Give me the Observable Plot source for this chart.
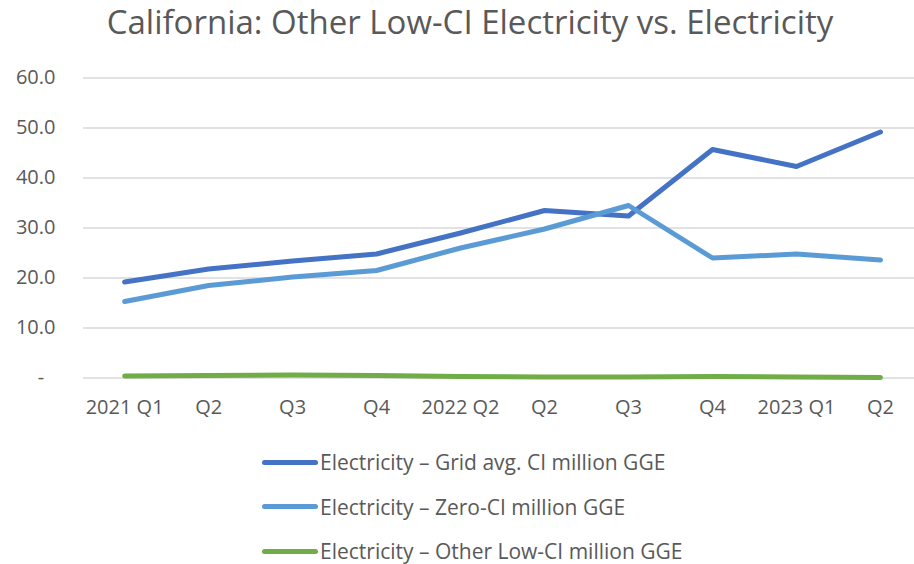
<!DOCTYPE html>
<html><head><meta charset="utf-8">
<script src="https://cdn.jsdelivr.net/npm/d3@7"></script>
<script src="https://cdn.jsdelivr.net/npm/@observablehq/plot@0.6"></script>
<style>
body{margin:0;background:#fff;font-family:"Open Sans",Lato,sans-serif;color:#595959;}
#wrap{position:relative;width:914px;height:564px;overflow:hidden;background:#fff}
#title{position:absolute;left:0;top:0;width:940px;text-align:center;font-size:33px;line-height:44px;color:#595959;white-space:nowrap}
#chart{position:absolute;left:0;top:52px}
#legend{position:absolute;left:262px;top:440px}
.item{position:absolute;left:0;white-space:nowrap;font-size:21px;line-height:44px;height:44px;display:flex;align-items:center}
.sw{display:inline-block;width:56px;height:5px;border-radius:3px;margin-right:2px}
</style></head>
<body><div id="wrap"><div id="title">California: Other Low-CI Electricity vs. Electricity</div><div id="chart"></div><div id="legend"></div></div>
<script>
const quarters = ["2021 Q1","Q2","Q3","Q4","2022 Q2","Q2","Q3","Q4","2023 Q1","Q2"];
const gridAvg = [19.2, 21.8, 23.4, 24.8, 29.0, 33.5, 32.4, 45.7, 42.3, 49.2];
const zeroCI = [15.3, 18.5, 20.2, 21.5, 26.0, 29.8, 34.5, 24.0, 24.8, 23.6];
const otherLowCI = [0.4, 0.5, 0.6, 0.5, 0.3, 0.2, 0.2, 0.3, 0.2, 0.1];
const seriesNames = ["Electricity – Grid avg. CI million GGE", "Electricity – Zero-CI million GGE", "Electricity – Other Low-CI million GGE"];
const seriesColors = ["#4472C4", "#5B9BD5", "#70AD47"];
const yTicks = [0, 10, 20, 30, 40, 50, 60];

const allSeries = [gridAvg, zeroCI, otherLowCI];
const rows = [];
allSeries.forEach((vals, s) => vals.forEach((v, i) => rows.push({i, value: v, series: seriesNames[s]})));

const chart = Plot.plot({
  width: 914,
  height: 375,
  marginLeft: 83,
  marginRight: 0,
  marginTop: 25.5,
  marginBottom: 49.5,
  style: {fontFamily: "'Open Sans', Lato, sans-serif", fontSize: "20px", color: "#595959", background: "transparent"},
  x: {type: "linear", domain: [-0.49, 9.405], ticks: d3.range(quarters.length), tickFormat: i => quarters[i], tickSize: 0, tickPadding: 22, label: null},
  y: {domain: [0, 60], ticks: yTicks, tickFormat: d => d === 0 ? "-\u2007" : d.toFixed(1), tickSize: 0, tickPadding: 28, label: null},
  color: {domain: seriesNames, range: seriesColors},
  marks: [
    Plot.ruleY(yTicks, {stroke: "#D9D9D9", strokeWidth: 1.5}),
    Plot.line(rows, {x: "i", y: "value", z: "series", stroke: "series", strokeWidth: 5, strokeLinecap: "round", strokeLinejoin: "round"})
  ]
});
document.getElementById("chart").appendChild(chart);

const legend = document.getElementById("legend");
seriesNames.forEach((name, k) => {
  const d = document.createElement("div");
  d.className = "item";
  d.style.top = (k * 44.5) + "px";
  d.innerHTML = `<span class="sw" style="background:${seriesColors[k]}"></span><span>${name}</span>`;
  legend.appendChild(d);
});
</script></body></html>
